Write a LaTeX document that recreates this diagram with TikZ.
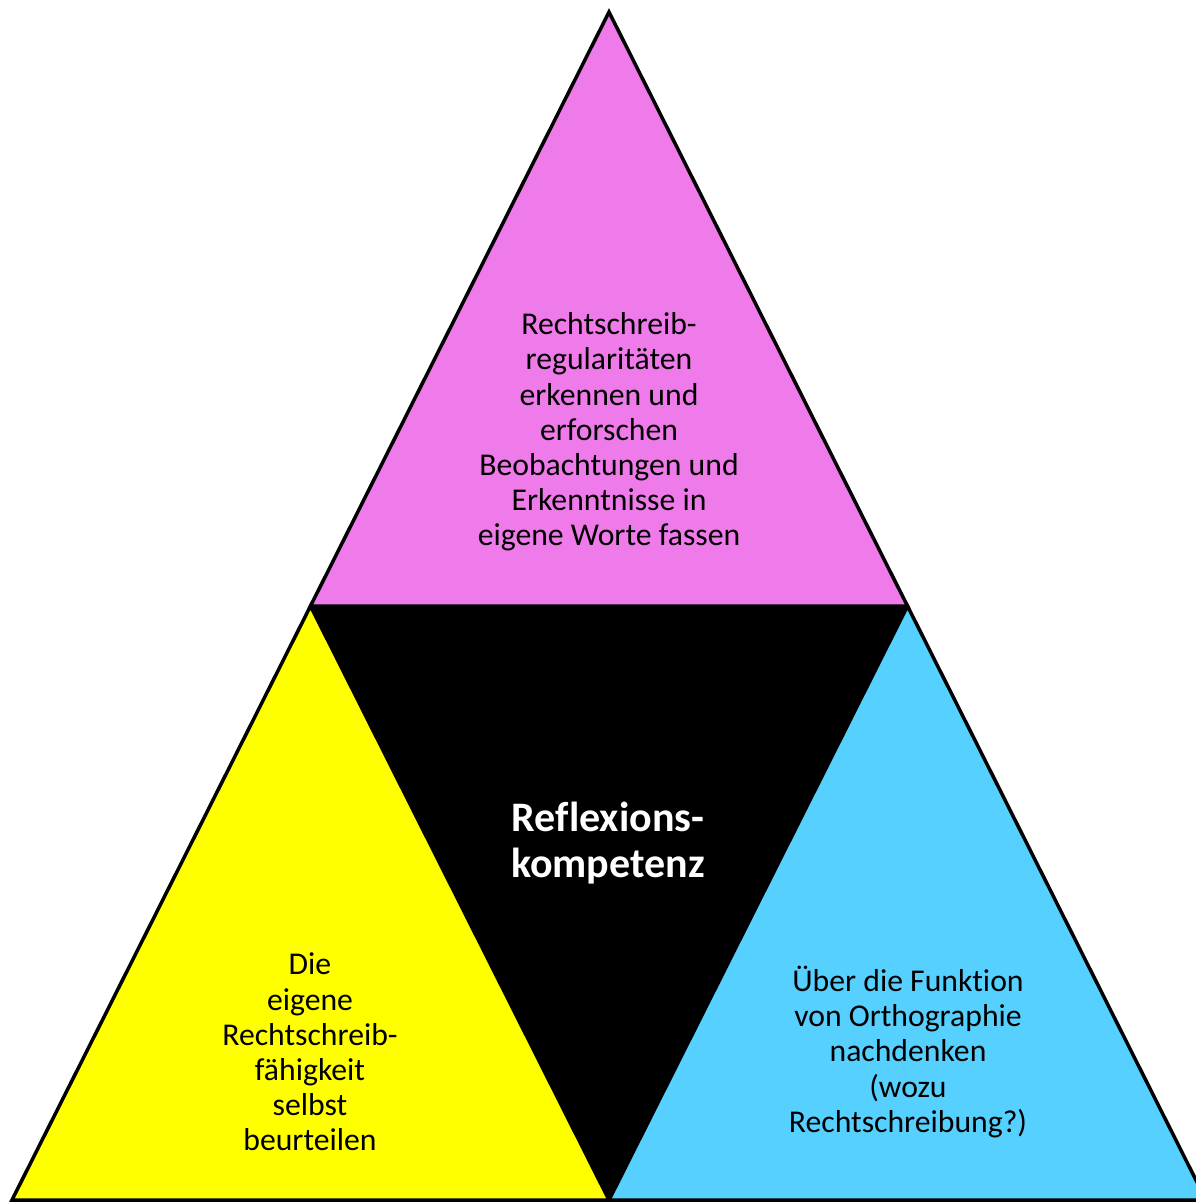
\documentclass[tikz,border=0pt]{standalone}
\usepackage{fontspec}
\setmainfont[RawFeature=-liga]{Carlito}
\definecolor{pinkc}{RGB}{239,122,233}
\definecolor{bluec}{RGB}{85,208,255}
\definecolor{yellowc}{RGB}{255,255,0}
\begin{document}
\begin{tikzpicture}[x=1pt,y=-1pt,
  part/.style={draw=black,line width=3.5pt,line join=miter},
  lbl/.style={align=center,font=\fontsize{31.7}{35.2}\selectfont,text=black,inner sep=0pt},
  centre/.style={align=center,font=\fontsize{42}{46}\selectfont\bfseries,text=white,inner sep=0pt}]
\useasboundingbox (0,0) rectangle (1196,1203);
\begin{scope}
\clip (0,0) rectangle (1196,1203);
\coordinate (A) at (609,12);
\coordinate (L) at (12,1200);
\coordinate (R) at (1206,1200);
\coordinate (ML) at (310.5,606);
\coordinate (MR) at (907.5,606);
\coordinate (MB) at (609,1200);
\fill[black] (ML) -- (MR) -- (MB) -- cycle;
\filldraw[part,fill=pinkc] (A) -- (ML) -- (MR) -- cycle;
\filldraw[part,fill=yellowc] (ML) -- (L) -- (MB) -- cycle;
\filldraw[part,fill=bluec] (MR) -- (MB) -- (R) -- cycle;
\end{scope}
\node[lbl] (top) at (609,432) {Rechtschreib-\\regularitäten\\erkennen und\\erforschen\\Beobachtungen und\\Erkenntnisse in\\eigene Worte fassen};
\node[centre] (mid) at (608,843) {Reflexions-\\kompetenz};
\node[lbl] (left) at (310,1052) {Die\\eigene\\Rechtschreib-\\fähigkeit\\selbst\\beurteilen};
\node[lbl] (right) at (908,1052) {Über die Funktion\\von Orthographie\\nachdenken\\(wozu\\Rechtschreibung?)};
\end{tikzpicture}
\end{document}
